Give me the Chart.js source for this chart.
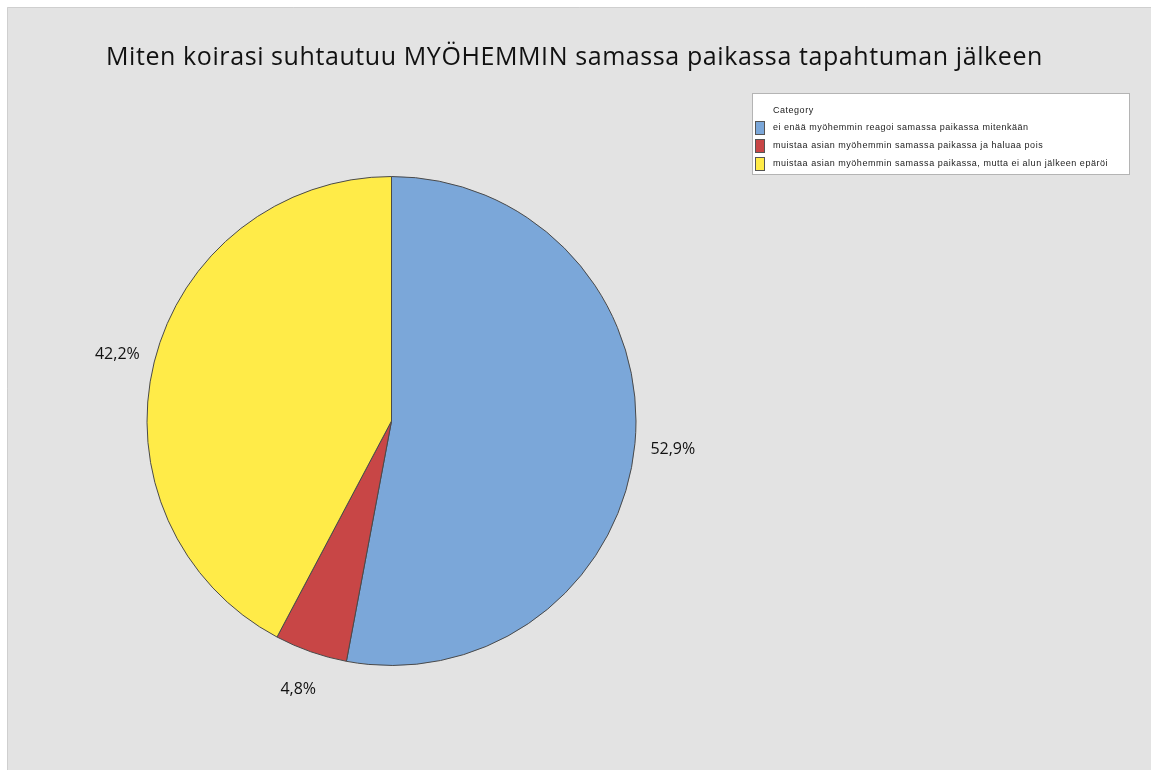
<!DOCTYPE html>
<html>
<head>
<meta charset="utf-8">
<script src="https://cdn.jsdelivr.net/npm/chart.js@4/dist/chart.umd.min.js"></script>
<style>
  html, body { margin: 0; padding: 0; background: #ffffff; }
  #wrap { width: 1151px; height: 770px; position: relative; }
</style>
</head>
<body>
<div id="wrap"><canvas id="pie" width="1151" height="770"></canvas></div>
<script>
/* Chart data */
var titleText = 'Miten koirasi suhtautuu MYÖHEMMIN samassa paikassa tapahtuman jälkeen';
var legendTitle = 'Category';
var categories = [
    'ei enää myöhemmin reagoi samassa paikassa mitenkään',
    'muistaa asian myöhemmin samassa paikassa ja haluaa pois',
    'muistaa asian myöhemmin samassa paikassa, mutta ei alun jälkeen epäröi'
];
var percents = [52.9, 4.8, 42.2];
var sliceColors = ['#7ba7d9', '#c84646', '#ffeb48'];

/* spread letters so a text line spans about the given width */
function spacingFor(ctx, text, width) {
    ctx.letterSpacing = '0px';
    var w = ctx.measureText(text).width;
    return Math.max(0, (width - w) / text.length) + 'px';
}

/* background, title, legend and slice labels drawn around the pie */
var decoPlugin = {
    id: 'deco',
    beforeDraw: function(chart) {
        var ctx = chart.ctx;
        ctx.save();
        ctx.fillStyle = '#ffffff';
        ctx.fillRect(0, 0, chart.width, chart.height);
        ctx.fillStyle = '#e3e3e3';
        ctx.fillRect(7, 7, chart.width - 7, chart.height - 7);
        ctx.strokeStyle = '#cfcfcf';
        ctx.lineWidth = 1;
        ctx.beginPath();
        ctx.moveTo(7.5, chart.height);
        ctx.lineTo(7.5, 7.5);
        ctx.lineTo(chart.width, 7.5);
        ctx.stroke();
        ctx.restore();
    },
    afterDraw: function(chart) {
        var ctx = chart.ctx;
        ctx.save();

        // title
        ctx.fillStyle = '#111111';
        ctx.font = '25px "Open Sans"';
        ctx.letterSpacing = spacingFor(ctx, titleText, 937);
        ctx.textAlign = 'left';
        ctx.textBaseline = 'middle';
        ctx.fillText(titleText, 106, 58);
        ctx.letterSpacing = '0px';

        // percent labels outside each slice
        var meta = chart.getDatasetMeta(0);
        ctx.textAlign = 'center';
        ctx.font = '16px "Open Sans"';
        meta.data.forEach(function(arc, i) {
            var mid = (arc.startAngle + arc.endAngle) / 2;
            var dist = arc.outerRadius + 38;
            var x = arc.x + Math.cos(mid) * dist;
            var y = arc.y + Math.sin(mid) * dist + 2;
            var txt = percents[i].toFixed(1).replace('.', ',') + '%';
            ctx.fillText(txt, x, y);
        });

        // legend box
        var lx = 752, ly = 93, lw = 377, lh = 81;
        ctx.fillStyle = '#ffffff';
        ctx.fillRect(lx, ly, lw, lh);
        ctx.strokeStyle = '#b4b4b4';
        ctx.lineWidth = 1;
        ctx.strokeRect(lx + 0.5, ly + 0.5, lw, lh);

        ctx.textAlign = 'left';
        ctx.fillStyle = '#222222';
        ctx.font = '9px "Liberation Sans"';
        ctx.letterSpacing = spacingFor(ctx, categories[2], 335);
        ctx.fillText(legendTitle, 773, 111);
        categories.forEach(function(cat, i) {
            var cy = 128 + i * 18;
            ctx.fillStyle = sliceColors[i];
            ctx.fillRect(755, cy - 7, 9, 14);
            ctx.strokeStyle = '#555555';
            ctx.strokeRect(755.5, cy - 6.5, 9, 13);
            ctx.fillStyle = '#222222';
            ctx.fillText(cat, 773, cy);
        });
        ctx.restore();
    }
};

var popCanvas = document.getElementById('pie').getContext('2d');

var pieChart = new Chart(popCanvas, {
    type: 'pie',
    data: {
        labels: categories,
        datasets: [{
            data: percents,
            backgroundColor: sliceColors,
            borderColor: '#4a4a4a',
            borderWidth: 1
        }]
    },
    options: {
        responsive: false,
        animation: false,
        layout: {
            padding: { left: 146, right: 514, top: 176, bottom: 104 }
        },
        plugins: {
            legend: { display: false },
            title: { display: false },
            tooltip: { enabled: false }
        }
    },
    plugins: [decoPlugin]
});
</script>
</body>
</html>
